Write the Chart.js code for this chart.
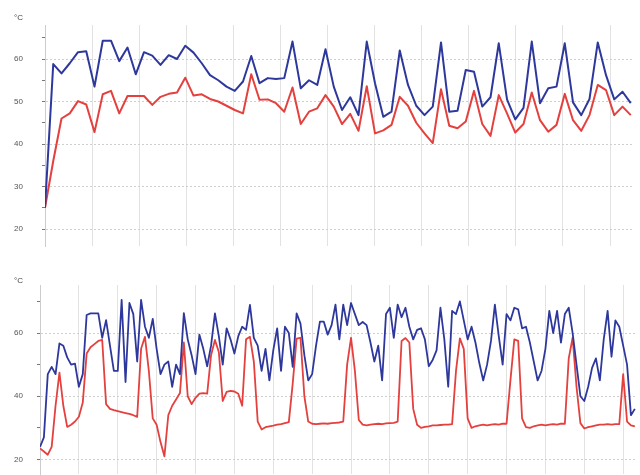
<!DOCTYPE html>
<html>
<head>
<meta charset="utf-8">
<script src="https://cdn.jsdelivr.net/npm/chart.js@4.4.1/dist/chart.umd.min.js"></script>
<style>
  html, body { margin: 0; padding: 0; background: #fff; }
  #wrap { position: relative; width: 640px; height: 475px; }
  #topChart { position: absolute; left: 0; top: 0; }
  #bottomChart { position: absolute; left: 0; top: 250px; }
</style>
</head>
<body>
<div id="wrap">
  <canvas id="topChart" width="640" height="250"></canvas>
  <canvas id="bottomChart" width="640" height="225"></canvas>
</div>
<script>
// upper chart: one reading per step
const topBlue = [25, 58.8, 56.6, 59, 61.6, 61.8, 53.5, 64.3, 64.3, 59.5,
  62.7, 56.4, 61.6, 60.8, 58.6, 60.9, 60, 63.1, 61.5, 59,
  56.2, 55, 53.5, 52.5, 54.7, 60.7, 54.3, 55.5, 55.3, 55.5,
  64.1, 53.1, 55, 53.9, 62.3, 53.5, 48, 51, 46.8, 64.1,
  54.3, 46.4, 47.6, 62, 53.9, 49, 46.8, 48.8, 63.9, 47.6,
  47.8, 57.4, 57, 48.8, 51, 63.7, 50.5, 45.8, 48.5, 64.1,
  49.6, 53.1, 53.5, 63.7, 49.8, 46.8, 50.6, 63.9, 56.2, 50.5,
  52.3, 49.6];
const topRed = [25, 36, 46, 47.2, 50.1, 49.3, 42.8, 51.7, 52.5, 47.2,
  51.3, 51.3, 51.3, 49.2, 51.1, 51.8, 52.1, 55.6, 51.4, 51.7,
  50.6, 50, 49, 48, 47.2, 56.4, 50.4, 50.5, 49.6, 47.6,
  53.3, 44.7, 47.6, 48.4, 51.5, 48.8, 44.7, 47.1, 43.1, 53.6,
  42.5, 43.2, 44.5, 51.1, 49, 45, 42.5, 40.2, 52.9, 44.3,
  43.7, 45.3, 52.5, 44.7, 41.9, 51.5, 47.2, 42.7, 44.7, 52.1,
  45.6, 42.9, 44.5, 51.8, 45.6, 43.1, 46.8, 53.9, 52.7, 46.8,
  48.8, 46.8];

// lower chart: finer readings
const bottomBlue = [24, 27, 47, 49.3, 47, 56.7, 56, 52.3, 50, 50.3,
  43, 47, 65.7, 66.2, 66.2, 66.2, 58.5, 64.1, 56, 48,
  48, 70.5, 44.5, 69.5, 66, 51, 70.5, 62, 58.5, 64.5,
  55, 47, 50, 51, 43, 50, 47, 66.3, 58, 53,
  47, 59.5, 55, 49.5, 56, 66.2, 59, 50, 61.5, 58,
  53.5, 59, 62, 61, 68.9, 58.5, 56, 48, 55, 45,
  54.5, 61.5, 48, 62, 60, 49.3, 66.2, 63, 53, 45,
  47, 56, 63.6, 63.6, 59.5, 62.5, 69, 58, 69, 62.5,
  69.5, 66, 62.5, 63.5, 62.5, 57, 51, 56, 45, 66,
  68, 58.5, 69, 65, 68, 62, 58, 61, 61.5, 58,
  49.5, 51.5, 54.5, 68, 58, 43, 67, 66, 70, 64,
  58, 62, 57, 50.5, 45, 50, 57.5, 69, 59, 50,
  66, 64, 68, 67.5, 61.5, 62, 57, 51, 45, 48,
  55, 67, 60, 67, 57, 66, 68, 60, 50, 40,
  38.5, 43, 49, 52, 45, 58, 67, 52.5, 64, 62,
  56, 50, 34, 36];
const bottomRed = [23.5, 22.5, 21.5, 24, 37, 47.5, 37, 30.3, 31, 32,
  33.5, 38, 53.5, 55.5, 56.5, 57.5, 57.8, 37.5, 36, 35.6,
  35.3, 35, 34.7, 34.4, 34, 33.5, 55, 58.8, 48, 33,
  31, 25.5, 21, 34, 37, 39, 41, 57, 40, 37.5,
  39.5, 40.8, 41, 40.8, 53, 57.8, 54, 38.5, 41.4, 41.7,
  41.5, 40.8, 37, 58, 58.8, 51, 32, 29.5, 30.2, 30.5,
  30.7, 31, 31.2, 31.5, 31.8, 44, 58.2, 58.5, 40, 32,
  31.3, 31.2, 31.3, 31.4, 31.3, 31.5, 31.6, 31.7, 32, 50,
  58.5, 48, 32.5, 31, 30.8, 31, 31.2, 31.3, 31.2, 31.4,
  31.5, 31.6, 32, 57.5, 58.4, 57, 36, 31, 30, 30.3,
  30.5, 30.8, 30.8, 30.9, 31, 31, 31.2, 48, 58.3, 55,
  33, 30, 30.5, 30.8, 31, 30.8, 31, 31.2, 31, 31.3,
  31.3, 45, 58, 57.5, 33, 30.2, 30, 30.5, 30.8, 31,
  30.8, 31, 31.2, 31, 31.3, 31.3, 52, 58.5, 43, 31.5,
  29.8, 30.2, 30.5, 30.8, 31, 31, 31.2, 31, 31.2, 31.2,
  47, 32, 30.8, 30.5];

const unitText = '°C';
const blue = 'rgb(46, 56, 156)';
const red = 'rgb(228, 64, 62)';
const tickFont = { family: 'Liberation Sans', size: 8 };

const unitLabel = {
  id: 'unitLabel',
  afterDraw(chart, args, opts) {
    const ctx = chart.ctx;
    ctx.save();
    ctx.font = '8px "Liberation Sans"';
    ctx.fillStyle = '#444';
    ctx.fillText(unitText, opts.x, opts.y);
    ctx.restore();
  }
};

function makeChart(id, blueData, redData, cfg) {
  return new Chart(document.getElementById(id), {
    type: 'line',
    data: {
      labels: blueData.map((v, i) => i),
      datasets: [{
        data: blueData,
        borderColor: blue,
        borderWidth: cfg.lineWidth,
        pointRadius: 0,
        tension: 0,
        borderJoinStyle: 'round'
      },
      {
        data: redData,
        borderColor: red,
        borderWidth: cfg.lineWidth,
        pointRadius: 0,
        tension: 0,
        borderJoinStyle: 'round'
      }]
    },
    options: {
      responsive: false,
      animation: false,
      devicePixelRatio: 1,
      layout: {
        autoPadding: false,
        padding: cfg.padding
      },
      plugins: {
        legend: { display: false },
        tooltip: { enabled: false },
        unitLabel: cfg.unit
      },
      scales: {
        x: {
          type: 'linear',
          min: 0,
          max: cfg.xMax,
          afterFit: (scale) => {
            scale.height = 0;
            scale.paddingLeft = 0;
            scale.paddingRight = 0;
          },
          ticks: { display: false, stepSize: cfg.xStep, includeBounds: false },
          grid: { color: '#e2e2e2', lineWidth: 1, drawTicks: false },
          border: { display: false }
        },
        y: {
          min: cfg.yMin,
          max: cfg.yMax,
          afterFit: (scale) => {
            scale.width = cfg.axisX;
            scale.paddingTop = 0;
            scale.paddingBottom = 0;
          },
          ticks: {
            stepSize: cfg.yStep,
            includeBounds: false,
            padding: cfg.labelPad,
            color: '#555',
            font: tickFont,
            callback: (v) => v % cfg.yLabelEvery === 0 ? v : ''
          },
          grid: {
            color: (ctx) => ctx.tick && ctx.tick.value % cfg.yLabelEvery === 0 ? '#cfcfcf' : 'rgba(0,0,0,0)',
            tickColor: '#777',
            tickLength: 3
          },
          border: { color: '#cccccc', dash: [2, 2] }
        }
      }
    },
    plugins: [unitLabel]
  });
}

makeChart('topChart', topBlue, topRed, {
  lineWidth: 2,
  padding: { top: 25, right: 8, bottom: 4, left: 0 },
  unit: { x: 14, y: 20 },
  xMax: 71.15, xStep: 5.707,
  yMin: 16, yMax: 68, yStep: 5, yLabelEvery: 10,
  axisX: 45, labelPad: 19
});

makeChart('bottomChart', bottomBlue, bottomRed, {
  lineWidth: 1.8,
  padding: { top: 35, right: 4, bottom: 1, left: 0 },
  unit: { x: 14, y: 33 },
  xMax: 153.3, xStep: 10,
  yMin: 15.4, yMax: 75.2, yStep: 10, yLabelEvery: 20,
  axisX: 40, labelPad: 14
});
</script>
</body>
</html>
